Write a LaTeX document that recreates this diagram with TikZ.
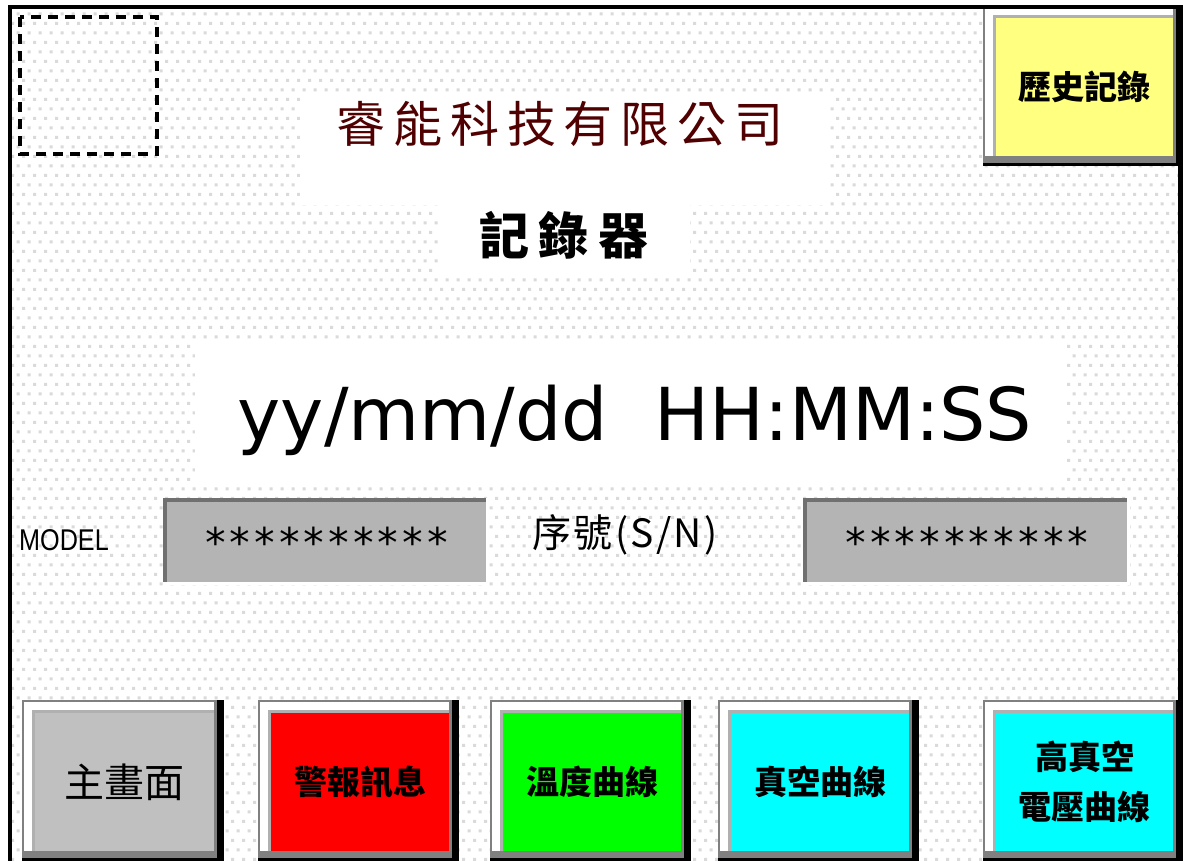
\documentclass[tikz,border=0pt]{standalone}
\usepackage{fontspec}
\usepackage{graphicx}
\newfontfamily\cjk{Noto Sans CJK TC}
\newfontfamily\dejavu{DejaVu Sans}
\newfontfamily\dejamono{DejaVu Sans Mono}
\newfontfamily\libsans{Liberation Sans}
\usetikzlibrary{patterns}
\definecolor{btndark}{HTML}{808080}
\definecolor{btnlight}{HTML}{B0B0B0}
\definecolor{facegrey}{HTML}{C0C0C0}
\definecolor{fieldgrey}{HTML}{B4B4B4}
\definecolor{fielddark}{HTML}{707070}
\definecolor{hmired}{HTML}{FF0000}
\definecolor{hmigreen}{HTML}{00FF00}
\definecolor{hmicyan}{HTML}{00FFFF}
\definecolor{hmiyellow}{HTML}{FFFF80}
\definecolor{brandred}{HTML}{500000}
\definecolor{dotgrey}{HTML}{DADADA}
\pgfdeclarepatternformonly{pixdots}{\pgfqpoint{0bp}{0bp}}{\pgfqpoint{9bp}{13bp}}{\pgfqpoint{11bp}{19bp}}{%
  \pgfpathrectangle{\pgfqpoint{0bp}{0bp}}{\pgfqpoint{3bp}{3bp}}%
  \pgfpathrectangle{\pgfqpoint{5.5bp}{9.5bp}}{\pgfqpoint{3bp}{3bp}}%
  \pgfusepath{fill}}
\tikzset{
  btnface/.style={inner sep=0pt, outer sep=0pt, align=center, text=black},
  btnbold/.style={font=\cjk\bfseries\fontsize{33bp}{50bp}\selectfont},
  btnplain/.style={font=\cjk\fontsize{40bp}{40bp}\selectfont},
  fieldtext/.style={inner sep=0pt, text=black, font=\dejamono\fontsize{41bp}{41bp}\selectfont},
  cjktext/.style={inner sep=0pt, align=center},
}
% name, x0, y0, x1, y1, face colour, text style, text
\newcommand\hmibtn[8]{%
  \fill[black] (#2,#3) rectangle (#4,#5);
  \fill[btndark] (#2,#3) rectangle ({#4-7},{#5-3});
  \fill[white] ({#2+2},{#3+2}) rectangle ({#4-10},{#5-10});
  \fill[btnlight] ({#2+10},{#3+10}) rectangle ({#4-10},{#5-10});
  \node[btnface, #7, fill=#6, minimum width={(#4-#2-23)*1bp}, minimum height={(#5-#3-23)*1bp}]
    (#1) at ({(#2+#4+3)/2},{(#3+#5+3)/2}) {#8};
}
\newcommand\hmifield[6]{%
  \fill[white] (#2,#3) rectangle (#4,#5);
  \fill[fielddark] (#2,#3) rectangle ({#4-3},{#5-3});
  \node[fieldtext, fill=fieldgrey, minimum width={(#4-#2-7)*1bp}, minimum height={(#5-#3-7)*1bp}]
    (#1) at ({(#2+#4+1)/2},{(#3+#5+1)/2}) {#6};
}
\begin{document}
\begin{tikzpicture}[x=1bp,y=-1bp]
\useasboundingbox (0,0) rectangle (1183,861);
% background
\fill[white] (0,0) rectangle (1183,861);
\fill[pattern=pixdots, pattern color=dotgrey] (12,9) rectangle (1178,861);
\fill[white] (300,92) rectangle (830,205);
\fill[white] (440,205) rectangle (690,275);
\fill[white] (195,340) rectangle (1065,485);
% dashed placeholder
\draw[line width=3.5bp, dash pattern=on 10bp off 7bp] (20,17) rectangle (157,154);
% titles
\node[cjktext, text=brandred, font=\cjk\fontsize{49bp}{49bp}\selectfont\addfontfeature{LetterSpace=16}]
  (company) at (560,124) {睿能科技有限公司};
\node[cjktext, font=\cjk\bfseries\fontsize{50bp}{50bp}\selectfont\addfontfeature{LetterSpace=20}]
  (recorder) at (564,235) {記錄器};
\node[anchor=base, inner sep=0pt, font=\dejavu\fontsize{73bp}{73bp}\selectfont]
  (datetime) at (635,440) {yy/mm/dd\ \ HH:MM:SS};
% model and serial
\node[inner sep=0pt, font=\libsans\fontsize{30bp}{30bp}\selectfont] (model) at (64,540) {\scalebox{0.84}[1]{MODEL}};
\hmifield{modelval}{163}{498}{489}{585}{**********}
\node[cjktext, font=\cjk\fontsize{39bp}{39bp}\selectfont\addfontfeature{LetterSpace=6}] (serial) at (625,535) {序號(S/N)};
\hmifield{serialval}{803}{498}{1130}{585}{**********}
% history button
\hmibtn{history}{983}{5}{1183}{166}{hmiyellow}{btnbold}{歷史記錄}
% bottom buttons
\hmibtn{mainscr}{22}{700}{224}{861}{facegrey}{btnplain}{主畫面}
\hmibtn{alarm}{258}{700}{459}{861}{hmired}{btnbold}{警報訊息}
\hmibtn{tempcurve}{490}{700}{691}{861}{hmigreen}{btnbold}{溫度曲線}
\hmibtn{vaccurve}{718}{700}{919}{861}{hmicyan}{btnbold}{真空曲線}
\hmibtn{hvcurve}{983}{700}{1183}{861}{hmicyan}{btnbold}{高真空\\電壓曲線}
% outer frame
\fill[black] (8,5) rectangle (12,861);
\fill[black] (8,5) rectangle (1183,9);
\fill[black] (1178,5) rectangle (1183,861);
\end{tikzpicture}
\end{document}
